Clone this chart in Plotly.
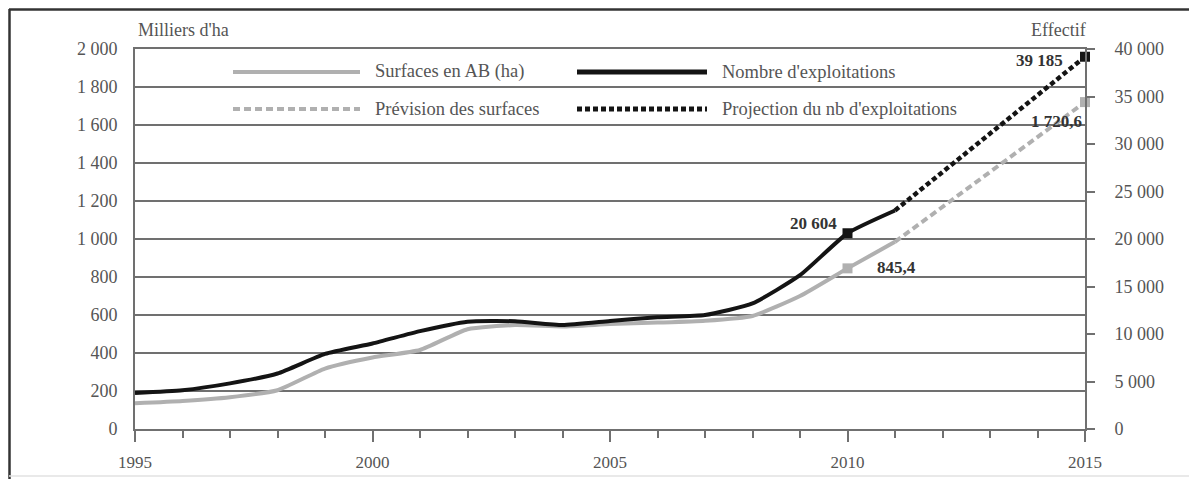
import plotly.graph_objects as go

# ---------------- data ----------------
years_hist = [1995, 1996, 1997, 1998, 1999, 2000, 2001, 2002, 2003, 2004,
              2005, 2006, 2007, 2008, 2009, 2010, 2011]
surfaces_hist = [135, 147, 167, 204, 318, 376, 416, 525, 547, 540,
                 552, 560, 570, 595, 700, 845.4, 985]          # milliers d'ha
exploit_hist = [3790, 4080, 4800, 5840, 7900, 9000, 10300, 11300, 11340, 10950,
                11370, 11770, 12000, 13220, 16190, 20604, 23000]  # effectif

years_proj = [2011, 2015]
surfaces_proj = [985, 1720.6]
exploit_proj = [23000, 39185]

marker_years = [2010, 2015]
surfaces_marks = [845.4, 1720.6]
exploit_marks = [20604, 39185]
surfaces_mark_labels = ["845,4", "1 720,6"]
exploit_mark_labels = ["20 604", "39 185"]

left_ticks = [0, 200, 400, 600, 800, 1000, 1200, 1400, 1600, 1800, 2000]
right_ticks = [0, 5000, 10000, 15000, 20000, 25000, 30000, 35000, 40000]
x_ticks = [1995, 2000, 2005, 2010, 2015]

legend_labels = ["Surfaces en AB (ha)", "Nombre d'exploitations",
                 "Prévision des surfaces", "Projection du nb d'exploitations"]

# ---------------- styles ----------------
GRAY = "#b0b0b0"
BLACK = "#141414"
GRID = "#707070"
TXT = "#555555"
FONT = "Liberation Serif"

fig = go.Figure()

fig.add_trace(go.Scatter(x=years_hist, y=surfaces_hist, mode="lines",
                         line=dict(color=GRAY, width=4, shape="spline", smoothing=0.5),
                         name=legend_labels[0], showlegend=False, yaxis="y"))
fig.add_trace(go.Scatter(x=years_proj, y=surfaces_proj, mode="lines",
                         line=dict(color=GRAY, width=4, dash="7px,4px"),
                         name=legend_labels[2], showlegend=False, yaxis="y"))
fig.add_trace(go.Scatter(x=years_hist, y=exploit_hist, mode="lines",
                         line=dict(color=BLACK, width=4, shape="spline", smoothing=0.5),
                         name=legend_labels[1], showlegend=False, yaxis="y2"))
fig.add_trace(go.Scatter(x=years_proj, y=exploit_proj, mode="lines",
                         line=dict(color=BLACK, width=4.5, dash="5px,3px"),
                         name=legend_labels[3], showlegend=False, yaxis="y2"))
fig.add_trace(go.Scatter(x=marker_years, y=surfaces_marks, mode="markers",
                         marker=dict(symbol="square", size=10, color=GRAY),
                         showlegend=False, yaxis="y", cliponaxis=False))
fig.add_trace(go.Scatter(x=marker_years, y=exploit_marks, mode="markers",
                         marker=dict(symbol="square", size=10, color=BLACK),
                         showlegend=False, yaxis="y2", cliponaxis=False))

# value labels
lab_font = dict(family=FONT, size=17, color="#333333")
fig.add_annotation(x=marker_years[0], y=exploit_marks[0], yref="y2", text="<b>" + exploit_mark_labels[0] + "</b>",
                   showarrow=False, xanchor="right", xshift=-9, yshift=10, font=lab_font)
fig.add_annotation(x=marker_years[1], y=exploit_marks[1], yref="y2", text="<b>" + exploit_mark_labels[1] + "</b>",
                   showarrow=False, xanchor="right", xshift=-20, yshift=-4, font=lab_font)
fig.add_annotation(x=marker_years[0], y=surfaces_marks[0], yref="y", text="<b>" + surfaces_mark_labels[0] + "</b>",
                   showarrow=False, xanchor="left", xshift=27, yshift=1, font=lab_font)
fig.add_annotation(x=marker_years[1], y=surfaces_marks[1], yref="y", text="<b>" + surfaces_mark_labels[1] + "</b>",
                   showarrow=False, xanchor="right", xshift=-1, yshift=-19, font=lab_font)

# page-pixel -> paper helpers (plot area spans x 135..1085, y 49..429 on the page)
W, PL = 950.0, 135.0
def px(x):
    return (x - PL) / W
def py(y):
    return (429 - y) / 380.0

# axis titles
fig.add_annotation(x=px(136), y=py(30), xref="paper", yref="paper", text="Milliers d'ha",
                   showarrow=False, xanchor="left", yanchor="middle",
                   font=dict(family=FONT, size=18, color=TXT))
fig.add_annotation(x=px(1088), y=py(30), xref="paper", yref="paper", text="Effectif",
                   showarrow=False, xanchor="right", yanchor="middle",
                   font=dict(family=FONT, size=18, color=TXT))

# manual legend (long line samples, two rows)
legend_rows = [
    (72, 233, 360, 373, GRAY, "solid", 4, legend_labels[0]),
    (72, 577, 707, 720, BLACK, "solid", 5, legend_labels[1]),
    (109, 233, 360, 373, GRAY, "7px,4px", 4, legend_labels[2]),
    (109, 577, 707, 720, BLACK, "5px,3px", 5, legend_labels[3]),
]
for (yy, x0, x1, xt, col, dash, w, lab) in legend_rows:
    fig.add_shape(type="line", xref="paper", yref="paper", x0=px(x0), x1=px(x1),
                  y0=py(yy), y1=py(yy), line=dict(color=col, width=w, dash=dash))
    fig.add_annotation(x=px(xt), y=py(yy), xref="paper", yref="paper", text=lab,
                       showarrow=False, xanchor="left", yanchor="middle",
                       font=dict(family=FONT, size=18.5, color=TXT))

# outer frame (left and top edges)
fig.add_shape(type="line", xref="paper", yref="paper", x0=px(9), x1=px(1205),
              y0=py(9.5), y1=py(9.5), line=dict(color="#333333", width=2.5))
fig.add_shape(type="line", xref="paper", yref="paper", x0=px(9.5), x1=px(9.5),
              y0=py(9), y1=py(490), line=dict(color="#333333", width=2.5))
fig.add_shape(type="line", xref="paper", yref="paper", x0=px(9), x1=px(1205),
              y0=py(476), y1=py(476), line=dict(color="#e2e2e2", width=1.5))

fig.update_layout(
    width=1197, height=479,
    margin=dict(l=127, r=120, t=41, b=58),
    paper_bgcolor="white", plot_bgcolor="white",
    separators=", ",
    showlegend=False,
    font=dict(family=FONT, size=17, color=TXT),
    xaxis=dict(range=[1995, 2015], tickvals=x_ticks, ticks="outside", ticklen=11,
               tickwidth=1.5, tickcolor=GRID,
               minor=dict(dtick=1, ticks="outside", ticklen=7, tickwidth=1.5, tickcolor=GRID),
               showline=True, linecolor=GRID, linewidth=2, mirror=True,
               showgrid=False, zeroline=False, ticklabelstandoff=6,
               tickfont=dict(family=FONT, size=17, color=TXT)),
    yaxis=dict(range=[0, 2000], tickvals=left_ticks, tickformat=",d",
               showgrid=True, gridcolor=GRID, gridwidth=2,
               showline=True, linecolor=GRID, linewidth=2,
               zeroline=False, ticks="", ticklabelstandoff=12,
               tickfont=dict(family=FONT, size=18, color=TXT)),
    yaxis2=dict(range=[0, 40000], tickvals=right_ticks, tickformat=",d",
                overlaying="y", side="right", showgrid=False, zeroline=False,
                showline=True, linecolor=GRID, linewidth=2,
                ticks="outside", ticklen=8, tickwidth=1.5, tickcolor=GRID,
                ticklabelstandoff=16,
                tickfont=dict(family=FONT, size=18, color=TXT)),
)

fig.write_html("out.html")
